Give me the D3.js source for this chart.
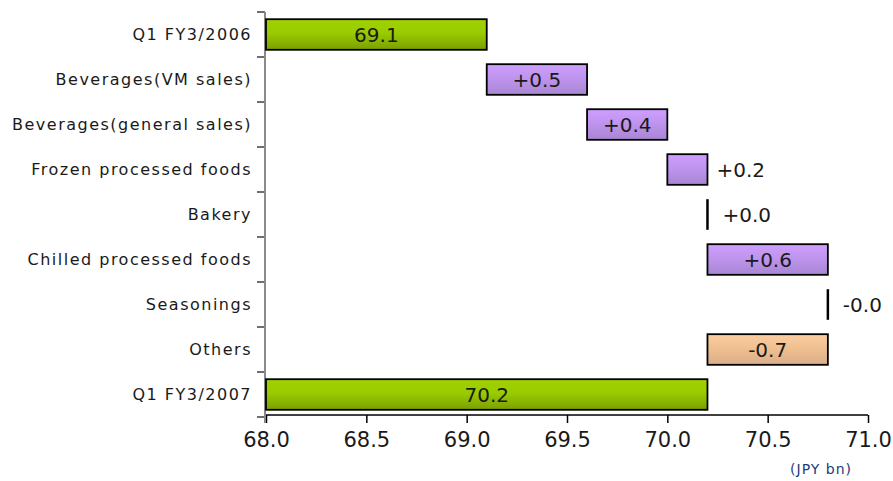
<!DOCTYPE html>
<html>
<head>
<meta charset="utf-8">
<script src="https://cdn.jsdelivr.net/npm/d3@7"></script>
<style>
  body { margin: 0; background: #fff; }
  svg { display: block; font-family: "DejaVu Sans", Verdana, sans-serif; }
</style>
</head>
<body>
<svg id="waterfall"></svg>
<script>
// categories top to bottom
var categories = ["Q1 FY3/2006", "Beverages(VM sales)", "Beverages(general sales)",
    "Frozen processed foods", "Bakery", "Chilled processed foods", "Seasonings", "Others", "Q1 FY3/2007"]
// label shown for each bar
var labels = ["69.1", "+0.5", "+0.4", "+0.2", "+0.0", "+0.6", "-0.0", "-0.7", "70.2"]
// where each bar starts and ends (JPY bn)
var barStart = [68.0, 69.1, 69.6, 70.0, 70.2, 70.2, 70.8, 70.8, 68.0]
var barEnd   = [69.1, 69.6, 70.0, 70.2, 70.2, 70.8, 70.8, 70.2, 70.2]
// kind of bar: total, up, down
var kinds = ["total", "up", "up", "up", "up", "up", "down", "down", "total"]
var xTicks = [68.0, 68.5, 69.0, 69.5, 70.0, 70.5, 71.0]

var dimensions = {
    width: 893,
    height: 481,
    margin: { top: 12, bottom: 64, right: 25, left: 266 }
}

var dataset = categories.map((c, i) => ({
    name: c, label: labels[i], start: barStart[i], end: barEnd[i], kind: kinds[i]
}))

var svg = d3.select("#waterfall")
    .attr("width", dimensions.width)
    .attr("height", dimensions.height)

// gradients
var defs = svg.append("defs")
var grads = {
    total: ["#a0d200", "#99cc00", "#7b9e00"],
    up: ["#cf9eff", "#bf94ee", "#a886d2"],
    down: ["#fbcda0", "#f0c090", "#d9ad88"]
}
Object.keys(grads).forEach(k => {
    var g = defs.append("linearGradient").attr("id", "g-" + k)
        .attr("x1", 0).attr("y1", 0).attr("x2", 0).attr("y2", 1)
    g.append("stop").attr("offset", "0%").attr("stop-color", grads[k][0])
    g.append("stop").attr("offset", "45%").attr("stop-color", grads[k][1])
    g.append("stop").attr("offset", "100%").attr("stop-color", grads[k][2])
})

var xScale = d3.scaleLinear()
    .domain([68, 71])
    .range([dimensions.margin.left, dimensions.width - dimensions.margin.right])

var yScale = d3.scaleBand()
    .domain(categories)
    .range([dimensions.margin.top, dimensions.height - dimensions.margin.bottom])

var barH = yScale.bandwidth() * 0.68
var axisY = dimensions.height - dimensions.margin.bottom - 2

// x axis
var xAxisgen = d3.axisBottom(xScale)
    .tickValues(xTicks)
    .tickFormat(d3.format(".1f"))
    .tickSize(8)
    .tickPadding(9)

var xAxis = svg.append("g")
    .attr("transform", `translate(0,${axisY})`)
    .call(xAxisgen)
xAxis.select(".domain").attr("stroke", "#000").attr("stroke-width", 1.5)
    .attr("d", `M${xScale(68)},0H${xScale(71)}`)
xAxis.selectAll(".tick line").attr("stroke", "#000").attr("stroke-width", 1.5)
xAxis.selectAll(".tick text")
    .style("font-size", "21px")
    .style("font-family", "DejaVu Sans, Verdana, sans-serif")
    .attr("fill", "#1a1a1a")

// y axis
var yAxisgen = d3.axisLeft(yScale).tickSize(0).tickPadding(13)
var yAxis = svg.append("g")
    .attr("transform", `translate(${dimensions.margin.left - 1},0)`)
    .call(yAxisgen)
yAxis.select(".domain").remove()
yAxis.selectAll(".tick text")
    .style("font-size", "16px")
    .style("letter-spacing", "1.5px")
    .style("font-family", "DejaVu Sans, Verdana, sans-serif")
    .attr("fill", "#1a1a1a")

// band boundary ticks
var bounds = categories.map(c => yScale(c)).concat([yScale.range()[1]])
svg.append("g").selectAll("line")
    .data(bounds)
    .enter()
    .append("line")
    .attr("x1", dimensions.margin.left - 9)
    .attr("x2", dimensions.margin.left - 1)
    .attr("y1", d => d)
    .attr("y2", d => d)
    .attr("stroke", "#222")
    .attr("stroke-width", 1.3)

svg.append("line")
    .attr("x1", dimensions.margin.left - 1)
    .attr("x2", dimensions.margin.left - 1)
    .attr("y1", dimensions.margin.top)
    .attr("y2", axisY + 8)
    .attr("stroke", "#8a8a8a")
    .attr("stroke-width", 2)

var widthOf = d => Math.abs(xScale(d.end) - xScale(d.start))

// bars
svg.append("g").selectAll("rect")
    .data(dataset.filter(d => widthOf(d) > 0))
    .enter()
    .append("rect")
    .attr("x", d => xScale(Math.min(d.start, d.end)))
    .attr("y", d => yScale(d.name) + (yScale.bandwidth() - barH) / 2)
    .attr("width", d => widthOf(d))
    .attr("height", barH)
    .attr("fill", d => "url(#g-" + d.kind + ")")
    .attr("stroke", "#000")
    .attr("stroke-width", 1.8)

// zero-size changes shown as a thin line
svg.append("g").selectAll("line")
    .data(dataset.filter(d => widthOf(d) == 0))
    .enter()
    .append("line")
    .attr("x1", d => xScale(d.start))
    .attr("x2", d => xScale(d.start))
    .attr("y1", d => yScale(d.name) + (yScale.bandwidth() - barH) / 2)
    .attr("y2", d => yScale(d.name) + (yScale.bandwidth() + barH) / 2)
    .attr("stroke", "#000")
    .attr("stroke-width", 2.5)

// labels
svg.append("g").selectAll("text")
    .data(dataset)
    .enter()
    .append("text")
    .attr("x", d => {
        var w = widthOf(d)
        var right = xScale(Math.max(d.start, d.end))
        if (w > 60) return (xScale(d.start) + xScale(d.end)) / 2
        return w < 1 ? right + 15 : right + 9
    })
    .attr("y", d => yScale(d.name) + yScale.bandwidth() / 2)
    .attr("dy", "0.36em")
    .attr("text-anchor", d => widthOf(d) > 60 ? "middle" : "start")
    .style("font-size", "20px")
    .attr("fill", "#1a1a1a")
    .text(d => d.label)

// unit note
svg.append("text")
    .attr("x", 852)
    .attr("y", 474)
    .attr("text-anchor", "end")
    .style("font-size", "14px")
    .style("letter-spacing", "1px")
    .attr("fill", "#1f3a78")
    .text("(JPY bn)")
</script>
</body>
</html>
